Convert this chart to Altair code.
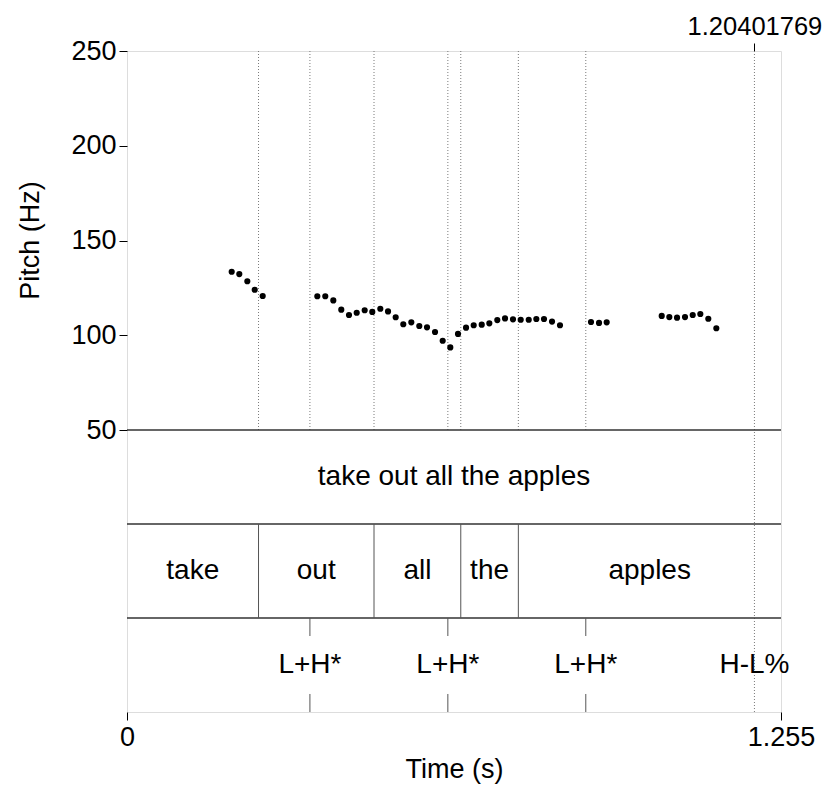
import altair as alt
import pandas as pd

# ---- pitch track (s, Hz) ----
times = [0.2009, 0.2155, 0.2309, 0.2451, 0.2604,
         0.3652, 0.3805, 0.3959, 0.4112, 0.4260, 0.4408, 0.4561, 0.4707, 0.4861,
         0.5009, 0.5156, 0.5302, 0.5456, 0.5609, 0.5757, 0.5911, 0.6058, 0.6204,
         0.6352, 0.6506, 0.6653, 0.6807, 0.6953, 0.7106, 0.7254, 0.7407, 0.7555,
         0.7709, 0.7855, 0.8002, 0.8156, 0.8309,
         0.8904, 0.9058, 0.9205,
         1.0261, 1.0407, 1.0555, 1.0708, 1.0856, 1.1002, 1.1155, 1.1309]
pitch = [133.5, 132.3, 128.5, 124.0, 120.7,
         120.6, 120.6, 118.4, 113.5, 110.7, 111.9, 113.2, 112.3, 114.0,
         112.6, 109.5, 105.8, 106.8, 104.9, 104.2, 101.7, 97.1, 93.6,
         100.7, 104.0, 105.3, 105.6, 106.3, 108.0, 108.9, 108.4, 108.2,
         108.2, 108.6, 108.6, 107.2, 105.3,
         107.0, 106.5, 106.8,
         110.2, 109.6, 109.3, 109.6, 110.7, 111.2, 108.7, 103.7]

# ---- TextGrid tiers ----
sentence = "take out all the apples"
words = ["take", "out", "all", "the", "apples"]
word_bounds = [0.0, 0.2524, 0.474, 0.6405, 0.751, 1.255]
tones = ["L+H*", "L+H*", "L+H*", "H-L%"]
tone_times = [0.351, 0.6157, 0.8804, 1.20401769]
cursor = 1.20401769
t_max = 1.255
y_ticks = [50, 100, 150, 200, 250]

# ---- layout in pitch units (each tier = 94 px, 379 px per 200 Hz) ----
P_MIN, P_MAX = 50, 250
TIER = 49.6
tier_tops = [P_MIN, P_MIN - TIER, P_MIN - 2 * TIER]
Y_BOTTOM = P_MIN - 3 * TIER
TICK = 9.5

FONT = "Liberation Sans"
xs = alt.Scale(domain=[0, t_max], nice=False, zero=False)
ys = alt.Scale(domain=[Y_BOTTOM, P_MAX], nice=False, zero=False)

yaxis = alt.Axis(values=y_ticks, title="Pitch (Hz)", tickSize=8, tickColor="black",
                 domain=False, grid=False, labelFont=FONT, labelFontSize=27,
                 labelColor="black", labelPadding=3, titleFont=FONT, titleFontSize=27,
                 titleFontWeight="normal", titleColor="black", titleX=-97, titleY=189,
                 titleAngle=270, titleAlign="center", titleBaseline="middle")
xaxis_bottom = alt.Axis(values=[0, t_max], format=".4~g", title="Time (s)", tickSize=8,
                        tickColor="black", domain=False, grid=False, labelFont=FONT,
                        labelFontSize=27, labelColor="black", labelPadding=4,
                        labelFlush=False, labelOverlap=False, titleFont=FONT,
                        titleFontSize=27, titleFontWeight="normal", titleColor="black",
                        titlePadding=6)
xaxis_top = alt.Axis(orient="top", values=[cursor], format=".9~g", title=None, tickSize=8,
                     tickColor="black", domain=False, grid=False, labelFont=FONT,
                     labelFontSize=25.5, labelColor="black", labelPadding=4,
                     labelFlush=False, labelOverlap=False)

pitch_df = pd.DataFrame({"t": times, "f": pitch})

bounds_inner = word_bounds[1:-1]
dotted_df = pd.DataFrame({"t": bounds_inner + tone_times[:-1],
                          "y1": P_MIN, "y2": P_MAX})
cursor_df = pd.DataFrame({"t": [cursor], "y1": [Y_BOTTOM], "y2": [P_MAX]})
hline_df = pd.DataFrame({"y": tier_tops})
wb_df = pd.DataFrame({"t": bounds_inner, "y1": tier_tops[1], "y2": tier_tops[2]})
tick_df = pd.DataFrame({
    "t": tone_times[:-1] * 2,
    "y1": [tier_tops[2]] * 3 + [Y_BOTTOM] * 3,
    "y2": [tier_tops[2] - TICK] * 3 + [Y_BOTTOM + TICK] * 3,
})
sent_df = pd.DataFrame({"t": [t_max / 2], "y": [tier_tops[0] - TIER / 2], "label": [sentence]})
word_df = pd.DataFrame({
    "t": [(a + b) / 2 for a, b in zip(word_bounds[:-1], word_bounds[1:])],
    "y": tier_tops[1] - TIER / 2, "label": words})
tone_df = pd.DataFrame({"t": tone_times, "y": tier_tops[2] - TIER / 2, "label": tones})

def X(field="t", axis=None):
    return alt.X(f"{field}:Q", scale=xs, axis=axis, title=None)

def Y(field):
    return alt.Y(f"{field}:Q", scale=ys, axis=yaxis)

dotted = alt.Chart(dotted_df).mark_rule(color="#7a7a7a", strokeWidth=1, strokeDash=[1, 2]).encode(
    x=X(), y=Y("y1"), y2="y2:Q")
cursor_line = alt.Chart(cursor_df).mark_rule(color="#7a7a7a", strokeWidth=1, strokeDash=[1, 2]).encode(
    x=X(axis=xaxis_top), y=Y("y1"), y2="y2:Q")
hlines = alt.Chart(hline_df).mark_rule(color="#333333", strokeWidth=1.5).encode(y=Y("y"))
word_bounds_layer = alt.Chart(wb_df).mark_rule(color="#555555", strokeWidth=1).encode(
    x=X(), y=Y("y1"), y2="y2:Q")
ticks = alt.Chart(tick_df).mark_rule(color="#555555", strokeWidth=1).encode(
    x=X(), y=Y("y1"), y2="y2:Q")

def text_layer(df, size):
    return alt.Chart(df).mark_text(font=FONT, fontSize=size, color="black",
                                   align="center", baseline="middle").encode(
        x=X(), y=Y("y"), text="label:N")

points = alt.Chart(pitch_df).mark_circle(size=38, color="black", opacity=1).encode(
    x=X(axis=xaxis_bottom), y=Y("f"))

chart = alt.layer(
    dotted, cursor_line, hlines, word_bounds_layer, ticks,
    text_layer(sent_df, 28), text_layer(word_df, 28), text_layer(tone_df, 28),
    points,
).resolve_axis(x="independent").properties(
    width=654, height=661,
    autosize=alt.AutoSizeParams(type="none"),
    padding={"left": 119, "top": 43, "right": 42, "bottom": 72},
).configure_view(stroke="#222222", strokeWidth=1.5).configure(background="white")

chart.save("out.html", embed_options={"renderer": "svg", "actions": False})
